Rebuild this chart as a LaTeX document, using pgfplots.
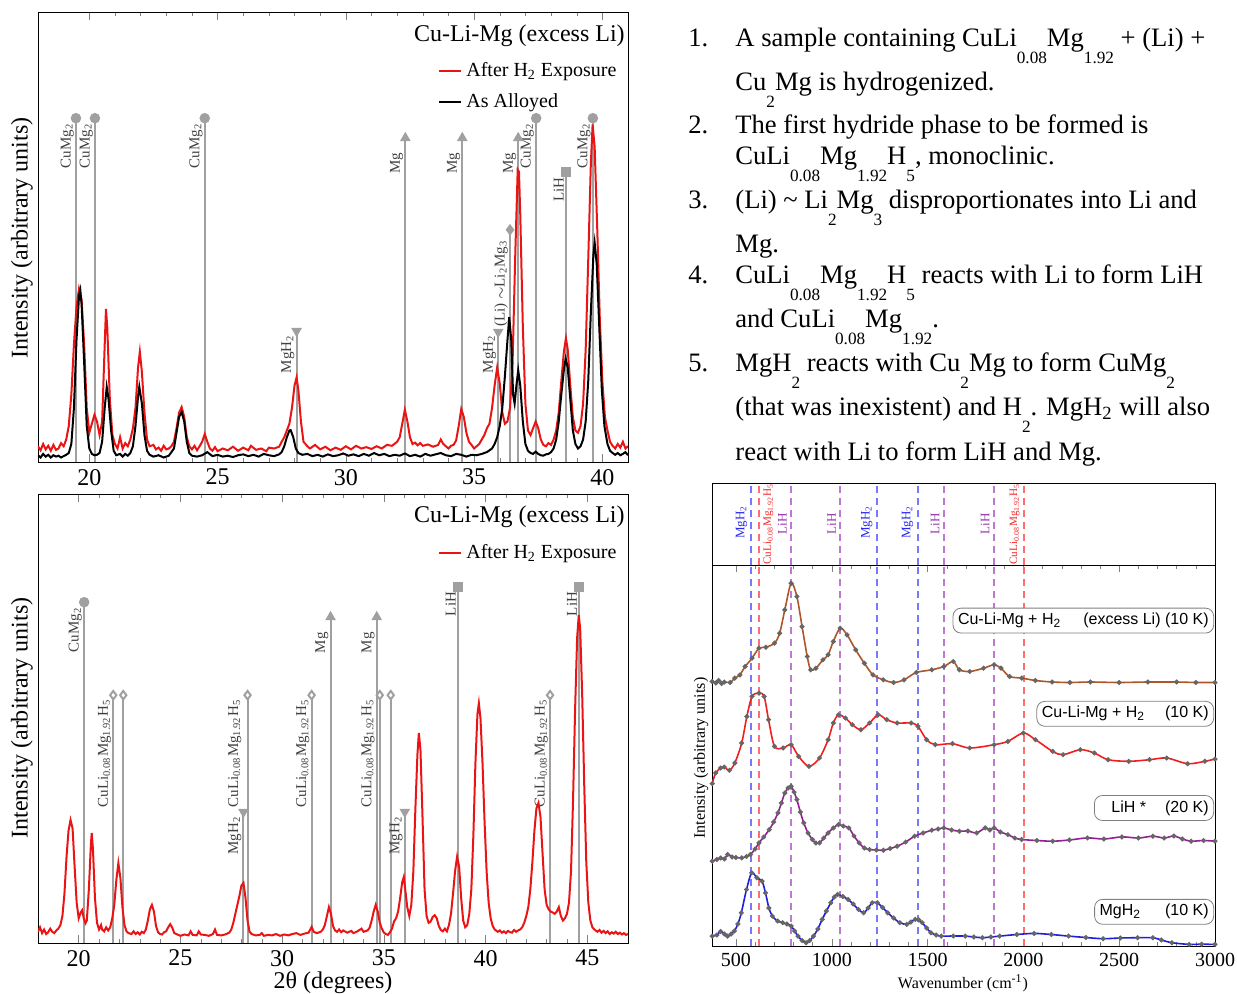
\documentclass[border=0pt]{standalone}
\usepackage{fontspec}
\setmainfont{Liberation Serif}
\newfontfamily\arial{Liberation Sans}
\usepackage{pgfplots}
\pgfplotsset{compat=1.18}

\definecolor{xrdred}{RGB}{235,20,20}
\definecolor{refgray}{RGB}{160,160,160}
\definecolor{rbrown}{RGB}{175,85,40}
\definecolor{rred}{RGB}{240,30,30}
\definecolor{rpurple}{RGB}{150,30,150}
\definecolor{rblue}{RGB}{30,30,220}
\definecolor{dblue}{RGB}{120,120,255}
\definecolor{dred}{RGB}{255,110,110}
\definecolor{dpurple}{RGB}{190,120,210}
\definecolor{lblue}{RGB}{40,40,240}
\definecolor{lred}{RGB}{240,40,40}
\definecolor{lpurple}{RGB}{150,50,170}

\newcommand{\ls}[1]{\raisebox{-8.5pt}{\fontsize{8.6}{9}\selectfont #1}}
\newcommand{\culi}{CuLi\textsubscript{0.08}Mg\textsubscript{1.92}H\textsubscript{5}}

\pgfplotsset{
  xrd/.style={scale only axis, anchor=south west, width=295pt,
    ymin=0, ymax=100, xmin=18, ytick=\empty, tick align=inside,
    xtick={20,25,...,45}, minor x tick num=4,
    major tick length=4pt, minor tick length=2pt,
    tick label style={font=\fontsize{12}{12}\selectfont},
    /pgf/number format/assume math mode=true,
    legend style={draw=none, fill=none, font=\fontsize{10}{11}\selectfont,
      row sep=3pt, inner sep=0pt, anchor=north east, cells={anchor=west}},
    legend image code/.code={\draw[#1] (0pt,0pt) -- (11pt,0pt);}},
  refl/.style={forget plot, color=refgray, line width=1pt, mark indices={2},
    mark size=2.1pt, mark options={fill=refgray, draw=refgray, solid}},
  dl/.style={forget plot, dashed, dash pattern=on 3.5pt off 2.5pt, line width=1pt},
  rs/.style={line width=0.8pt, smooth, tension=0.5, mark=*, mark size=0.8pt,
    mark options={fill=black!60, draw=black!60}}
}
\tikzset{
  lab/.style={xshift=-0.4pt, rotate=90, anchor=south east, font=\fontsize{7.5}{8}\selectfont,
    text=black!75, inner sep=0.5pt},
  rl/.style={xshift=-1.5pt, rotate=90, anchor=south, font=\fontsize{6.5}{7}\selectfont, inner sep=0.5pt},
  rr/.style={xshift=1.5pt, rotate=90, anchor=north, font=\fontsize{6.5}{7}\selectfont, inner sep=0.5pt},
  bx/.style={anchor=east, draw=black!50, rounded corners=4pt, fill=white,
    font=\arial\fontsize{8}{9}\selectfont, inner sep=2.5pt, text=black}
}

\begin{document}
\begin{tikzpicture}

% ---------------- top XRD panel ----------------
\begin{axis}[xrd, at={(19pt,265.5pt)}, height=225pt, xmax=41,
  legend style={at={(rel axis cs:0.988,0.898)}}]
\addlegendimage{xrdred, line width=1pt}
\addlegendentry{After H\textsubscript{2} Exposure}
\addlegendimage{black, line width=1pt}
\addlegendentry{As Alloyed}

\addplot[refl, mark=*] coordinates {(19.48,0) (19.48,76.4)};
\addplot[refl, mark=*] coordinates {(20.22,0) (20.22,76.4)};
\addplot[refl, mark=*] coordinates {(24.50,0) (24.50,76.4)};
\addplot[refl, mark=triangle*, mark options={rotate=180}] coordinates {(28.08,0) (28.08,29.1)};
\addplot[refl, mark=triangle*] coordinates {(32.32,0) (32.32,72)};
\addplot[refl, mark=triangle*] coordinates {(34.54,0) (34.54,72)};
\addplot[refl, mark=triangle*, mark options={rotate=180}] coordinates {(35.94,0) (35.94,28.9)};
\addplot[refl, mark=diamond*] coordinates {(36.40,0) (36.40,51.6)};
\addplot[refl, mark=triangle*] coordinates {(36.72,0) (36.72,72)};
\addplot[refl, mark=*] coordinates {(37.42,0) (37.42,76.4)};
\addplot[refl, mark=square*] coordinates {(38.58,0) (38.58,64.4)};
\addplot[refl, mark=*] coordinates {(39.63,0) (39.63,76.4)};

\node[lab] at (axis cs:19.48,75.5) {CuMg\textsubscript{2}};
\node[lab] at (axis cs:20.22,75.5) {CuMg\textsubscript{2}};
\node[lab] at (axis cs:24.50,75.5) {CuMg\textsubscript{2}};
\node[lab] at (axis cs:28.08,28.5) {MgH\textsubscript{2}};
\node[lab] at (axis cs:32.32,69) {Mg};
\node[lab] at (axis cs:34.54,69) {Mg};
\node[lab] at (axis cs:35.94,28.5) {MgH\textsubscript{2}};
\node[lab] at (axis cs:36.40,49.5) {(Li) $\sim$Li\textsubscript{2}Mg\textsubscript{3}};
\node[lab] at (axis cs:36.72,69) {Mg};
\node[lab] at (axis cs:37.42,75.5) {CuMg\textsubscript{2}};
\node[lab] at (axis cs:38.58,63.5) {LiH};
\node[lab] at (axis cs:39.63,75.5) {CuMg\textsubscript{2}};

\addplot[forget plot, xrdred, line width=1pt] coordinates {
(18.0,3.5) (18.1,2.6) (18.2,4.0) (18.3,2.8) (18.4,3.6) (18.5,2.5) (18.6,3.8) (18.7,2.7)
(18.8,3.0) (18.9,4.2) (19.0,3.5) (19.1,5.0) (19.2,8.0) (19.3,15.0) (19.4,26.0) (19.5,34.5)
(19.6,38.5) (19.7,36.0) (19.8,26.0) (19.9,12.0) (20.0,6.5) (20.1,8.5) (20.2,10.5) (20.3,9.0)
(20.4,6.0) (20.5,9.0) (20.6,26.0) (20.65,34.0) (20.7,30.0) (20.8,14.0) (20.9,6.0) (21.0,4.0)
(21.1,3.0) (21.2,5.5) (21.3,3.0) (21.4,4.2) (21.5,3.5) (21.6,5.0) (21.7,7.5) (21.8,12.0)
(21.9,21.0) (21.97,24.5) (22.05,20.0) (22.15,11.0) (22.25,5.0) (22.35,3.5) (22.5,3.8) (22.6,2.8)
(22.7,3.2) (22.8,2.5) (22.9,3.6) (23.0,2.8) (23.1,3.0) (23.2,3.5) (23.3,4.5) (23.4,7.5)
(23.5,11.0) (23.6,12.2) (23.7,10.0) (23.8,5.5) (23.9,3.5) (24.0,2.8) (24.1,3.6) (24.2,2.6)
(24.3,3.5) (24.4,4.5) (24.5,6.2) (24.6,4.5) (24.7,3.0) (24.8,2.5) (24.9,3.3) (25.0,2.4)
(25.2,3.0) (25.4,2.6) (25.6,3.4) (25.8,2.5) (26.0,3.2) (26.2,2.6) (26.3,3.6) (26.5,2.7)
(26.7,3.0) (26.9,2.4) (27.0,3.2) (27.2,3.0) (27.4,3.4) (27.5,4.5) (27.6,5.5) (27.7,7.0)
(27.8,8.5) (27.9,12.0) (28.0,17.0) (28.08,18.8) (28.15,16.0) (28.25,9.0) (28.35,4.5) (28.5,3.5)
(28.6,3.0) (28.8,3.8) (29.0,2.8) (29.2,3.4) (29.4,2.6) (29.6,3.2) (29.8,2.7) (30.0,3.5)
(30.2,2.8) (30.4,3.6) (30.6,3.0) (30.8,3.3) (31.0,2.9) (31.2,3.5) (31.4,3.0) (31.6,3.8)
(31.8,3.6) (32.0,4.5) (32.1,5.5) (32.2,8.5) (32.3,11.6) (32.4,9.0) (32.5,5.5) (32.6,4.0)
(32.7,4.3) (32.8,3.7) (32.9,4.2) (33.0,3.6) (33.2,3.9) (33.4,3.4) (33.6,3.8) (33.7,5.0)
(33.8,4.0) (33.9,3.5) (34.0,3.0) (34.1,3.6) (34.2,3.8) (34.3,4.8) (34.4,8.0) (34.5,11.8)
(34.6,10.0) (34.7,6.5) (34.8,4.5) (34.9,3.8) (35.0,3.0) (35.1,3.5) (35.2,4.0) (35.3,5.0)
(35.4,6.0) (35.5,7.5) (35.6,8.5) (35.7,12.0) (35.8,17.0) (35.9,21.0) (36.0,17.5) (36.1,11.0)
(36.2,8.5) (36.3,9.0) (36.4,12.0) (36.5,22.0) (36.6,45.0) (36.7,65.0) (36.75,64.5) (36.8,55.0)
(36.9,30.0) (37.0,13.0) (37.1,7.0) (37.2,6.0) (37.3,7.5) (37.4,9.0) (37.5,7.5) (37.6,5.0)
(37.7,3.8) (37.8,3.5) (37.9,4.2) (38.0,3.8) (38.1,5.0) (38.2,7.0) (38.3,11.0) (38.4,18.0)
(38.5,24.5) (38.58,27.5) (38.65,25.0) (38.75,17.0) (38.85,10.0) (38.95,7.0) (39.05,6.5) (39.15,8.0)
(39.25,13.0) (39.35,25.0) (39.45,45.0) (39.55,66.0) (39.62,75.0) (39.7,70.0) (39.8,52.0) (39.9,32.0)
(40.0,18.0) (40.1,10.0) (40.2,7.0) (40.3,4.5) (40.4,3.6) (40.5,3.0) (40.6,4.0) (40.7,3.2)
(40.8,4.5) (40.9,3.0) (41.0,3.5)};

\addplot[forget plot, black, line width=1pt] coordinates {
(18.0,1.5) (18.1,1.0) (18.2,1.8) (18.3,1.2) (18.4,1.6) (18.5,1.0) (18.6,1.5) (18.7,1.2)
(18.8,1.4) (18.9,1.0) (19.0,1.3) (19.1,1.6) (19.2,2.0) (19.3,4.0) (19.4,12.0) (19.5,27.0)
(19.6,37.0) (19.65,38.2) (19.7,35.0) (19.8,22.0) (19.9,8.0) (20.0,3.0) (20.1,1.8) (20.2,1.5)
(20.3,1.6) (20.4,2.0) (20.5,4.5) (20.6,12.0) (20.68,16.7) (20.75,14.0) (20.85,7.0) (20.95,2.5)
(21.05,1.5) (21.2,1.8) (21.3,1.2) (21.4,1.8) (21.5,1.4) (21.6,2.0) (21.7,3.5) (21.8,8.0)
(21.9,14.5) (21.95,16.7) (22.05,13.0) (22.15,6.0) (22.25,2.5) (22.35,1.6) (22.5,1.2) (22.7,1.5)
(22.9,1.0) (23.1,1.4) (23.3,3.0) (23.4,6.5) (23.5,10.0) (23.6,11.1) (23.7,9.0) (23.8,4.5)
(23.9,2.0) (24.0,1.4) (24.2,1.2) (24.4,1.5) (24.6,2.2) (24.8,1.3) (25.0,1.6) (25.2,1.2)
(25.4,1.4) (25.6,1.1) (25.8,1.5) (26.0,1.7) (26.2,1.3) (26.4,1.6) (26.6,1.2) (26.8,1.8)
(27.0,1.5) (27.2,1.3) (27.4,1.7) (27.5,2.2) (27.6,3.5) (27.7,5.5) (27.8,7.0) (27.85,7.1)
(27.95,5.5) (28.05,3.0) (28.15,2.0) (28.3,1.6) (28.5,1.8) (28.7,1.3) (28.9,1.6) (29.1,1.2)
(29.3,1.7) (29.5,1.3) (29.7,1.5) (29.9,1.9) (30.1,1.4) (30.3,1.7) (30.5,1.3) (30.7,1.8)
(30.9,1.4) (31.1,2.0) (31.3,1.5) (31.5,1.8) (31.7,1.3) (31.9,1.6) (32.1,1.4) (32.3,1.9)
(32.5,1.3) (32.7,1.6) (32.9,1.2) (33.1,1.8) (33.3,1.4) (33.5,1.7) (33.7,2.0) (33.9,1.5)
(34.1,1.3) (34.3,1.8) (34.5,1.6) (34.7,1.2) (34.9,1.6) (35.1,1.5) (35.3,1.8) (35.5,2.2)
(35.7,3.0) (35.8,4.0) (35.9,5.5) (36.0,8.0) (36.1,12.0) (36.2,19.0) (36.3,27.0) (36.37,32.2)
(36.45,27.0) (36.52,15.0) (36.58,13.0) (36.65,17.0) (36.72,20.4) (36.8,17.0) (36.9,9.0) (37.0,4.0)
(37.1,2.5) (37.2,2.0) (37.3,1.8) (37.4,2.3) (37.5,1.8) (37.6,1.5) (37.7,1.4) (37.8,1.7)
(37.9,1.8) (38.0,2.2) (38.1,3.0) (38.2,5.0) (38.3,9.0) (38.4,15.0) (38.5,20.5) (38.57,23.0)
(38.65,21.0) (38.75,14.0) (38.85,7.0) (38.95,4.0) (39.05,3.0) (39.15,3.5) (39.25,5.0) (39.35,9.0)
(39.45,18.0) (39.55,33.0) (39.65,46.0) (39.7,48.7) (39.78,44.0) (39.88,30.0) (39.98,16.0) (40.08,8.0)
(40.2,4.0) (40.3,2.5) (40.4,2.0) (40.5,1.6) (40.6,2.0) (40.7,1.5) (40.8,1.8) (40.9,2.2) (41.0,1.5)};

\node[anchor=east, font=\fontsize{12}{13}\selectfont, inner sep=0pt]
  at (rel axis cs:0.995,0.947) {Cu-Li-Mg (excess Li)};
\end{axis}

% ---------------- bottom XRD panel ----------------
\begin{axis}[xrd, at={(19pt,25pt)}, height=224.5pt, xmax=47,
  legend style={at={(rel axis cs:0.988,0.898)}}]
\addlegendimage{xrdred, line width=1pt}
\addlegendentry{After H\textsubscript{2} Exposure}

\addplot[refl, mark=*] coordinates {(20.27,0) (20.27,75.9)};
\addplot[refl, mark=diamond*, mark options={fill=white}] coordinates {(21.70,0) (21.70,55.2)};
\addplot[refl, mark=diamond*, mark options={fill=white}] coordinates {(22.19,0) (22.19,55.2)};
\addplot[refl, mark=triangle*, mark options={rotate=180}] coordinates {(28.10,0) (28.10,29.2)};
\addplot[refl, mark=diamond*, mark options={fill=white}] coordinates {(28.30,0) (28.30,55.2)};
\addplot[refl, mark=diamond*, mark options={fill=white}] coordinates {(31.45,0) (31.45,55.2)};
\addplot[refl, mark=triangle*] coordinates {(32.38,0) (32.38,72.6)};
\addplot[refl, mark=triangle*] coordinates {(34.65,0) (34.65,72.6)};
\addplot[refl, mark=diamond*, mark options={fill=white}] coordinates {(34.80,0) (34.80,55.2)};
\addplot[refl, mark=diamond*, mark options={fill=white}] coordinates {(35.34,0) (35.34,55.2)};
\addplot[refl, mark=triangle*, mark options={rotate=180}] coordinates {(36.03,0) (36.03,29.2)};
\addplot[refl, mark=square*] coordinates {(38.64,0) (38.64,79.3)};
\addplot[refl, mark=diamond*, mark options={fill=white}] coordinates {(43.17,0) (43.17,55.2)};
\addplot[refl, mark=square*] coordinates {(44.60,0) (44.60,79.3)};

\node[lab] at (axis cs:20.27,75) {CuMg\textsubscript{2}};
\node[lab] at (axis cs:21.70,54.5) {\culi};
\node[lab] at (axis cs:28.10,28.5) {MgH\textsubscript{2}};
\node[lab] at (axis cs:28.10,54.5) {\culi};
\node[lab] at (axis cs:31.45,54.5) {\culi};
\node[lab] at (axis cs:32.38,69.5) {Mg};
\node[lab] at (axis cs:34.65,69.5) {Mg};
\node[lab] at (axis cs:34.65,54.5) {\culi};
\node[lab] at (axis cs:36.03,28.5) {MgH\textsubscript{2}};
\node[lab] at (axis cs:38.64,78.5) {LiH};
\node[lab] at (axis cs:43.17,54.5) {\culi};
\node[lab] at (axis cs:44.60,78.5) {LiH};

\addplot[forget plot, xrdred, line width=1pt] coordinates {
(18.0,2.5) (18.1,3.5) (18.2,2.2) (18.3,3.0) (18.4,2.0) (18.5,2.4) (18.6,3.2) (18.7,2.5)
(18.8,2.2) (18.9,2.8) (19.0,3.2) (19.1,4.0) (19.2,6.0) (19.3,11.0) (19.4,19.0) (19.5,25.0)
(19.6,27.4) (19.7,25.5) (19.8,17.0) (19.9,9.0) (20.0,5.5) (20.1,6.8) (20.17,7.3) (20.25,5.5)
(20.33,4.4) (20.4,5.0) (20.5,12.0) (20.6,22.0) (20.64,24.5) (20.7,21.0) (20.8,10.0) (20.9,4.5)
(21.0,3.0) (21.1,4.0) (21.15,3.0) (21.25,2.6) (21.35,3.5) (21.45,2.8) (21.55,3.5) (21.65,5.5)
(21.75,8.5) (21.85,14.0) (21.95,17.8) (22.05,14.5) (22.15,8.0) (22.25,4.0) (22.35,2.6) (22.45,2.2)
(22.6,2.0) (22.7,2.6) (22.8,2.0) (22.9,2.4) (23.0,1.9) (23.1,2.5) (23.2,2.2) (23.3,3.0)
(23.4,5.0) (23.5,7.5) (23.6,8.5) (23.7,7.0) (23.8,3.8) (23.9,2.4) (24.0,2.0) (24.1,1.9)
(24.2,2.4) (24.3,2.6) (24.4,3.5) (24.5,4.2) (24.6,3.4) (24.7,2.2) (24.8,2.0) (24.9,1.8)
(25.0,1.6) (25.2,1.9) (25.4,1.7) (25.5,2.6) (25.6,1.8) (25.8,1.7) (25.9,2.6) (26.0,1.9)
(26.2,1.8) (26.4,1.6) (26.6,2.0) (26.7,3.0) (26.8,1.8) (27.0,1.7) (27.2,1.9) (27.4,2.3)
(27.5,3.0) (27.6,4.5) (27.7,6.5) (27.8,8.5) (27.9,10.5) (28.0,12.8) (28.1,13.4) (28.2,10.0)
(28.3,5.0) (28.4,2.5) (28.5,2.0) (28.7,1.7) (28.9,1.8) (29.0,2.2) (29.1,1.6) (29.3,1.8)
(29.5,1.7) (29.7,2.0) (29.9,1.6) (30.1,1.9) (30.3,1.7) (30.5,2.0) (30.7,2.2) (30.9,1.8)
(31.1,2.1) (31.3,2.3) (31.45,3.6) (31.55,2.5) (31.7,2.2) (31.9,2.5) (32.0,3.0) (32.1,4.0)
(32.2,6.0) (32.3,8.0) (32.4,6.5) (32.5,3.8) (32.6,2.8) (32.7,2.5) (32.8,3.0) (32.9,2.4)
(33.0,2.8) (33.2,2.3) (33.4,2.7) (33.5,2.2) (33.7,2.6) (33.9,3.2) (34.0,2.5) (34.2,2.8)
(34.3,3.4) (34.4,5.0) (34.5,7.0) (34.6,8.5) (34.7,7.0) (34.8,4.5) (34.9,3.2) (35.0,2.3)
(35.1,2.0) (35.2,1.8) (35.3,2.4) (35.4,3.2) (35.5,4.8) (35.6,5.5) (35.7,7.0) (35.8,10.0)
(35.9,13.5) (35.98,14.7) (36.05,12.0) (36.15,8.0) (36.25,6.0) (36.35,8.5) (36.45,16.0) (36.55,30.0)
(36.65,42.0) (36.72,46.8) (36.8,43.0) (36.9,28.0) (37.0,12.0) (37.1,6.0) (37.2,4.5) (37.3,4.8)
(37.4,5.8) (37.5,6.2) (37.6,5.5) (37.7,3.8) (37.8,2.9) (37.9,2.6) (38.0,3.2) (38.1,2.6)
(38.2,4.0) (38.3,6.5) (38.4,11.0) (38.5,16.0) (38.6,19.2) (38.7,17.0) (38.8,10.0) (38.9,5.0)
(39.0,3.5) (39.1,4.0) (39.2,6.5) (39.3,12.0) (39.4,24.0) (39.5,40.0) (39.6,51.0) (39.67,53.4)
(39.75,50.0) (39.85,40.0) (39.95,27.0) (40.05,16.0) (40.15,9.0) (40.25,5.5) (40.35,3.8) (40.45,3.0)
(40.6,2.5) (40.7,2.8) (40.8,2.3) (40.9,2.6) (41.0,2.2) (41.1,2.7) (41.2,2.4) (41.3,2.3)
(41.4,2.9) (41.5,2.5) (41.6,2.8) (41.7,3.0) (41.8,3.5) (41.9,4.5) (42.0,6.0) (42.1,8.0)
(42.2,12.0) (42.3,18.0) (42.4,25.0) (42.5,30.0) (42.6,31.2) (42.7,28.0) (42.8,20.0) (42.9,12.0)
(43.0,8.5) (43.1,7.5) (43.2,7.0) (43.3,6.8) (43.4,6.5) (43.5,7.0) (43.6,8.0) (43.7,6.0)
(43.8,5.0) (43.9,5.5) (44.0,6.5) (44.1,9.0) (44.2,16.0) (44.3,32.0) (44.4,52.0) (44.5,68.0)
(44.58,73.0) (44.65,70.0) (44.75,55.0) (44.85,35.0) (44.95,18.0) (45.05,9.0) (45.15,5.0) (45.25,3.5)
(45.35,3.0) (45.5,2.5) (45.6,2.9) (45.7,2.3) (45.8,2.7) (45.9,2.2) (46.0,2.6) (46.1,2.0)
(46.2,2.4) (46.3,2.1) (46.4,2.5) (46.5,2.0) (46.6,2.3) (46.7,1.9) (46.8,2.2) (46.9,1.8) (47.0,2.0)};

\node[anchor=east, font=\fontsize{12}{13}\selectfont, inner sep=0pt]
  at (rel axis cs:0.995,0.949) {Cu-Li-Mg (excess Li)};
\end{axis}

% ---------------- Raman, label strip ----------------
\begin{axis}[scale only axis, anchor=south west, at={(356pt,214pt)},
  width=251.5pt, height=41pt, xmin=375, xmax=3000, ymin=0, ymax=1,
  xtick=\empty, ytick=\empty]
\addplot[dl, dblue] coordinates {(581,0) (581,1)};
\addplot[dl, dred] coordinates {(620,0) (620,1)};
\addplot[dl, dpurple] coordinates {(788,0) (788,1)};
\addplot[dl, dpurple] coordinates {(1045,0) (1045,1)};
\addplot[dl, dblue] coordinates {(1235,0) (1235,1)};
\addplot[dl, dblue] coordinates {(1448,0) (1448,1)};
\addplot[dl, dpurple] coordinates {(1584,0) (1584,1)};
\addplot[dl, dpurple] coordinates {(1846,0) (1846,1)};
\addplot[dl, dred] coordinates {(2003,0) (2003,1)};
\node[rl, text=lblue] at (axis cs:581,0.52) {MgH\textsubscript{2}};
\node[rr, text=lred, font=\fontsize{5.6}{6}\selectfont] at (axis cs:620,0.5) {\culi};
\node[rl, text=lpurple] at (axis cs:788,0.5) {LiH};
\node[rl, text=lpurple] at (axis cs:1045,0.5) {LiH};
\node[rl, text=lblue] at (axis cs:1235,0.52) {MgH\textsubscript{2}};
\node[rl, text=lblue] at (axis cs:1448,0.52) {MgH\textsubscript{2}};
\node[rl, text=lpurple] at (axis cs:1584,0.5) {LiH};
\node[rl, text=lpurple] at (axis cs:1846,0.5) {LiH};
\node[rl, text=lred, font=\fontsize{5.6}{6}\selectfont] at (axis cs:2003,0.5) {\culi};
\end{axis}

% ---------------- Raman spectra ----------------
\begin{axis}[scale only axis, anchor=south west, at={(356pt,23.5pt)},
  width=251.5pt, height=190.5pt, xmin=375, xmax=3000, ymin=0, ymax=381,
  ytick=\empty, xtick={500,1000,...,3000}, minor x tick num=4,
  tick align=inside, major tick length=3.5pt, minor tick length=2pt,
  tick label style={font=\fontsize{10}{11}\selectfont},
  /pgf/number format/assume math mode=true,
  /pgf/number format/1000 sep={}]
\addplot[dl, dblue] coordinates {(581,0) (581,381)};
\addplot[dl, dred] coordinates {(620,0) (620,381)};
\addplot[dl, dpurple] coordinates {(788,0) (788,381)};
\addplot[dl, dpurple] coordinates {(1045,0) (1045,381)};
\addplot[dl, dblue] coordinates {(1235,0) (1235,381)};
\addplot[dl, dblue] coordinates {(1448,0) (1448,381)};
\addplot[dl, dpurple] coordinates {(1584,0) (1584,381)};
\addplot[dl, dpurple] coordinates {(1846,0) (1846,381)};
\addplot[dl, dred] coordinates {(2003,0) (2003,381)};

\addplot[rs, rbrown] coordinates {
(376,264.5) (395,263) (410,265.5) (425,262.5) (439,264) (470,263.5) (494,267.9) (520,271)
(548,279.5) (584,287.8) (620,297.8) (656,298.8) (701,302.8) (728,312.8) (755,336.1) (788,362.7)
(818,349.4) (845,319.4) (872,289.5) (890,276.2) (917,277.8) (954,286.2) (981,291.2) (1008,304.5)
(1044,317.8) (1080,311.1) (1125,296.1) (1170,282.8) (1215,271.2) (1269,266.2) (1323,263.5) (1377,266.2)
(1441,273.5) (1522,276.2) (1585,279.5) (1634,284.5) (1666,276.2) (1720,274.5) (1792,277.8) (1847,281.2)
(1883,277.8) (1928,269.5) (1991,267.9) (2063,265.5) (2150,264) (2243,263.5) (2350,264) (2500,263.5)
(2650,264) (2800,264) (2900,263.5) (3000,263.5)};

\addplot[rs, rred] coordinates {
(376,162.4) (394,173) (420,178) (439,179) (466,175.7) (494,183) (530,203) (557,229.6)
(584,249.6) (620,252.9) (647,249.6) (670,226.3) (701,199.6) (746,198) (788,201.3) (827,189.6)
(881,179.7) (936,188) (981,206.3) (1008,223) (1035,231.2) (1071,227.9) (1107,221.3) (1152,216.3)
(1197,223) (1242,231.2) (1287,226.3) (1341,223) (1414,223) (1450,219.6) (1495,206.3) (1540,201.3)
(1630,202.3) (1720,198) (1847,201.3) (1919,204.6) (2000,213) (2063,206.3) (2153,194.6) (2207,191.3)
(2297,196.3) (2370,193) (2442,186.3) (2550,184.7) (2658,186.3) (2748,188) (2857,182.3) (2947,184.7)
(3000,187)};

\addplot[rs, rpurple] coordinates {
(376,84.8) (400,86.5) (420,88) (440,87) (457,91.5) (480,89) (500,88.5) (530,88.1)
(555,89.5) (575,91.5) (600,97) (620,103.1) (645,109) (674,116.4) (697,124) (719,133.1)
(737,143) (755,153) (772,158) (788,159.7) (803,154) (818,146.4) (836,134) (854,123.1)
(876,113) (899,106.5) (917,103) (936,103.1) (958,108) (981,113.1) (1008,118) (1035,121.4)
(1060,120) (1089,118.1) (1116,110) (1143,103.1) (1170,98) (1197,96.5) (1233,96) (1269,95.8)
(1305,97.5) (1341,99.8) (1386,104) (1432,109.8) (1477,113) (1522,115.8) (1555,117) (1585,118.1)
(1625,116) (1666,114.8) (1710,115) (1756,113.1) (1801,118.1) (1825,116) (1847,118.1) (1880,114)
(1919,111.4) (1955,108) (1991,106.5) (2070,105.5) (2153,104.8) (2240,106) (2334,108.1) (2420,107)
(2514,109.1) (2600,108) (2676,109.8) (2735,108) (2785,110) (2830,107) (2875,104.8) (2940,105.5)
(3000,104.8)};

\addplot[rs, rblue] coordinates {
(376,9.9) (400,11) (420,14.5) (440,12) (456,9.9) (475,12) (492,15) (510,22)
(528,33.2) (555,56.5) (582,73.2) (609,68.2) (636,64.8) (654,53.2) (672,38) (690,29.9)
(717,25) (744,23.3) (766,22) (788,19.9) (806,15) (824,9.9) (845,5.5) (866,3.3)
(885,5.5) (905,9.9) (927,17) (950,26.6) (972,35) (995,43.2) (1013,49) (1031,51.5)
(1058,49.5) (1085,46.5) (1112,42) (1139,36.6) (1166,33.2) (1190,38) (1211,43.2) (1238,43.2)
(1265,38.5) (1292,33.2) (1323,28) (1355,23.3) (1391,21.6) (1413,24) (1436,26.6) (1455,26)
(1472,23.3) (1495,18) (1517,13.3) (1545,11) (1571,9.9) (1634,10) (1697,9.9) (1742,9)
(1786,8.3) (1830,9) (1876,9.9) (1966,11.5) (2056,12.6) (2146,11.5) (2236,9.9) (2326,8.5)
(2416,7.3) (2506,8) (2596,8.3) (2676,8.3) (2720,6) (2775,3.3) (2865,1.6) (2930,1.8) (3000,1.6)};

\node[bx] at (axis cs:2995,325.4) {Cu-Li-Mg + H\textsubscript{2}\hspace{11pt}(excess Li) (10 K)};
\node[bx] at (axis cs:2995,232.2) {Cu-Li-Mg + H\textsubscript{2}\hspace{10pt}(10 K)};
\node[bx] at (axis cs:2995,138) {\hspace{6pt}LiH *\hspace{9.5pt}(20 K)};
\node[bx] at (axis cs:2995,34.2) {MgH\textsubscript{2}\hspace{12pt}(10 K)};
\end{axis}

% ---------------- axis titles ----------------
\node[rotate=90, font=\fontsize{12}{13}\selectfont] at (11pt,377.5pt) {Intensity (arbitrary units)};
\node[rotate=90, font=\fontsize{12}{13}\selectfont] at (11pt,137.5pt) {Intensity (arbitrary units)};
\node[font=\fontsize{12}{13}\selectfont] at (166.5pt,5pt) {2θ (degrees)};
\node[rotate=90, font=\fontsize{8}{9}\selectfont] at (350.5pt,117.5pt) {Intensity (arbitrary units)};
\node[font=\fontsize{8}{9}\selectfont] at (481.5pt,5pt) {Wavenumber (cm\textsuperscript{-1})};

% ---------------- text list ----------------
\begin{scope}[every node/.style={anchor=base west, inner sep=0pt, font=\fontsize{13.3}{16}\selectfont}]
\node at (344pt,473.3pt) {1.};
\node at (367.5pt,473.3pt) {A sample containing CuLi\ls{0.08}Mg\ls{1.92} + (Li) +};
\node at (367.5pt,451.3pt) {Cu\ls{2}Mg is hydrogenized.};
\node at (344pt,429.6pt) {2.};
\node at (367.5pt,429.6pt) {The first hydride phase to be formed is};
\node at (367.5pt,414.1pt) {CuLi\ls{0.08}Mg\ls{1.92}H\ls{5}, monoclinic.};
\node at (344pt,392.1pt) {3.};
\node at (367.5pt,392.1pt) {(Li) \textasciitilde{} Li\ls{2}Mg\ls{3} disproportionates into Li and};
\node at (367.5pt,370.1pt) {Mg.};
\node at (344pt,354.6pt) {4.};
\node at (367.5pt,354.6pt) {CuLi\ls{0.08}Mg\ls{1.92}H\ls{5} reacts with Li to form LiH};
\node at (367.5pt,332.8pt) {and CuLi\ls{0.08}Mg\ls{1.92}.};
\node at (344pt,310.8pt) {5.};
\node at (367.5pt,310.8pt) {MgH\ls{2} reacts with Cu\ls{2}Mg to form CuMg\ls{2}};
\node at (367.5pt,288.8pt) {(that was inexistent) and H\ls{2}. MgH\textsubscript{2} will also};
\node at (367.5pt,266.3pt) {react with Li to form LiH and Mg.};
\end{scope}

\pgfresetboundingbox
\useasboundingbox (0pt,0pt) rectangle (618.5pt,496.5pt);
\end{tikzpicture}
\end{document}
